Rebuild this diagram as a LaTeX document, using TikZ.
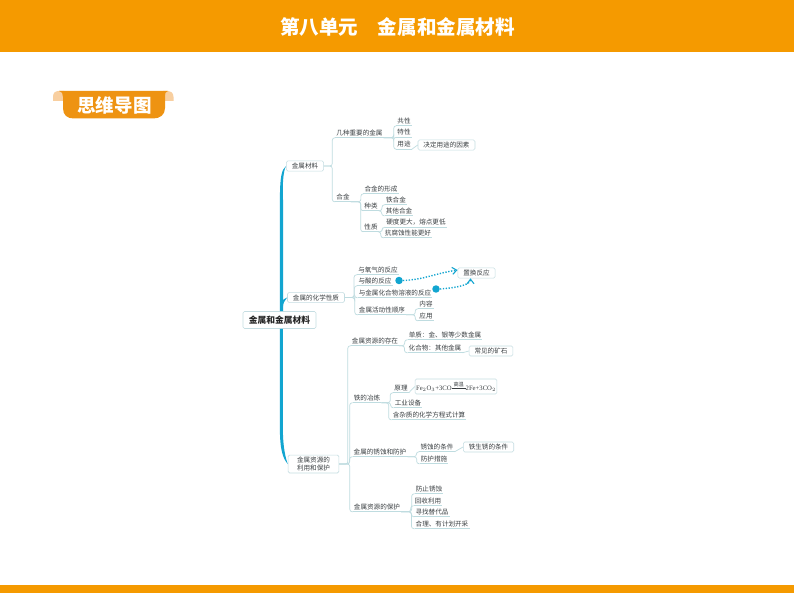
\documentclass[tikz,border=0pt]{standalone}
\usepackage{fontspec}
\usepackage{amsmath}
\setmainfont{Noto Sans CJK SC}
\setmonofont{Liberation Serif}
\usetikzlibrary{arrows.meta,calc}
\definecolor{bandor}{HTML}{F59A00}
\definecolor{tagor}{HTML}{EE9312}
\definecolor{earor}{HTML}{F8CFA0}
\definecolor{trunkb}{HTML}{12A5D0}
\definecolor{linec}{HTML}{BFDCE0}
\definecolor{txtc}{HTML}{3A3F42}
\definecolor{boxc}{HTML}{C5DDE2}
\tikzset{
  leaf/.style={inner xsep=1pt,inner ysep=1.2pt,text=txtc,font=\fontsize{6.6}{7.5}\selectfont,text height=5.8pt,text depth=1pt},
  boxed/.style={draw=boxc,line width=.6pt,rounded corners=1.5pt,fill=white,inner xsep=5.5pt,inner ysep=2pt,text=txtc,font=\fontsize{6.6}{7.8}\selectfont,align=center},
  conn/.style={draw=linec,line width=.7pt,rounded corners=2.5pt},
  uline/.style={draw=linec,line width=.7pt},
  dotarrow/.style={draw=trunkb,line width=1.4pt,dash pattern=on 1.3pt off 1.6pt,-{Straight Barb[length=4.5pt,width=7pt,line width=1.1pt]}},
  bdot/.style={circle,fill=trunkb,minimum size=7.5pt,inner sep=0pt},
  band/.style={fill=bandor,draw=none}
}
% \lf{name}{cx}{cy}{text}: a leaf with its underline
\newcommand{\lf}[4]{\node[leaf] (#1) at (#2,#3) {#4};\draw[uline] (#1.south west) -- (#1.south east);}
% \lk{from}{to}{gap}: elbow connector from a parent anchor to a child's underline
\newcommand{\lk}[3]{\draw[conn] (#1) -| ([xshift=-#3]#2.south west) -- (#2.south west);}
\begin{document}
\begin{tikzpicture}[x=1bp,y=-1bp]
\useasboundingbox (0,0) rectangle (794,593);
\fill[white] (0,0) rectangle (794,593);
\fill[band] (0,0) rectangle (794,52);
\fill[band] (0,585) rectangle (794,593);
\node[text=white,font=\fontsize{19.6}{22}\selectfont\bfseries,inner sep=0pt] (title) at (397.5,27) {第八单元\hspace{1em}金属和金属材料};
% banner
\fill[earor] (53,101) -- (53,97) .. controls (53,93) and (55,91) .. (59,91) -- (64,91) -- (64,101) -- cycle;
\fill[earor] (173.5,101) -- (173.5,97) .. controls (173.5,93) and (171,91) .. (167,91) -- (163,91) -- (163,101) -- cycle;
\fill[tagor] (59,91) -- (168,91) .. controls (165,91) and (165,94) .. (165,97) -- (165,108) .. controls (165,115) and (160,118.5) .. (153,118.5) -- (74,118.5) .. controls (67,118.5) and (63,115) .. (63,108) -- (63,97) .. controls (63,94) and (62,91) .. (59,91) -- cycle;
\node[text=white,font=\fontsize{18.6}{20}\selectfont\bfseries,inner sep=0pt] (tag) at (114.5,105.5) {思维导图};

% main nodes
\node[boxed,minimum width=73bp,minimum height=17bp,font=\fontsize{8.8}{10}\selectfont\bfseries,inner xsep=0pt,inner ysep=0pt,text=black!85] (root) at (279.5,320) {金属和金属材料};
\node[boxed] (a) at (305,166) {金属材料};
\node[boxed] (b) at (316,297.5) {金属的化学性质};
\node[boxed,inner xsep=9pt] (c) at (313.5,464) {金属资源的\\利用和保护};

% trunk
\fill[trunkb] ([xshift=.4]root.north) -- ([xshift=.4,yshift=110]root.north) .. controls ([xshift=.4,yshift=135]root.north) and ([xshift=2,yshift=142]root.north) .. (a.west) .. controls ([xshift=-3,yshift=-5]a.west) and ([xshift=-3.9,yshift=-20]a.west) .. ([xshift=3.6,yshift=110]root.north) -- ([xshift=3.6]root.north) -- cycle;
\fill[trunkb] ([xshift=1,yshift=4]root.north) .. controls ([xshift=1,yshift=9]root.north) and ([xshift=3,yshift=12]root.north) .. (b.west) .. controls ([xshift=5,yshift=10]root.north) and ([xshift=3.4,yshift=8]root.north) .. ([xshift=3.4,yshift=4]root.north) -- cycle;
\fill[trunkb] ([xshift=.4]root.south) -- ([xshift=.4,yshift=-100]root.south) .. controls ([xshift=.4,yshift=-120]root.south) and ([xshift=3,yshift=-130]root.south) .. (c.west) .. controls ([xshift=-1.5,yshift=4]c.west) and ([xshift=-5,yshift=15]c.west) .. ([xshift=3.4,yshift=-100]root.south) -- ([xshift=3.4]root.south) -- cycle;

% branch a
\lf{a1}{359.5}{133}{几种重要的金属}
\lf{a2}{343}{197}{合金}
\lk{a.east}{a1}{3}
\lk{a.east}{a2}{3}
\lf{a11}{404}{121}{共性}
\lf{a12}{404}{132.5}{特性}
\lf{a13}{404}{144.5}{用途}
\lk{a1.south east}{a11}{2.5}
\lk{a1.south east}{a12}{2.5}
\lk{a1.south east}{a13}{2.5}
\node[boxed] (a131) at (446.5,145) {决定用途的因素};
\draw[uline] (a13.south east) -- (a131.west);
\lf{a21}{381}{189}{合金的形成}
\lf{a22}{371}{206}{种类}
\lf{a23}{371}{227}{性质}
\lk{a2.south east}{a21}{2.5}
\lk{a2.south east}{a22}{2.5}
\lk{a2.south east}{a23}{2.5}
\lf{a221}{396}{200}{铁合金}
\lf{a222}{399}{211}{其他合金}
\lk{a22.south east}{a221}{3}
\lk{a22.south east}{a222}{3}
\lf{a231}{416}{222.5}{硬度更大，熔点更低}
\lf{a232}{408}{233}{抗腐蚀性能更好}
\lk{a23.south east}{a231}{3}
\lk{a23.south east}{a232}{3}

% branch b
\lf{b1}{378}{270}{与氧气的反应}
\lf{b2}{375}{281}{与酸的反应}
\lf{b3}{395}{293}{与金属化合物溶液的反应}
\lf{b4}{382}{310}{金属活动性顺序}
\lk{b.east}{b1}{3}
\lk{b.east}{b2}{3}
\lk{b.east}{b3}{3}
\lk{b.east}{b4}{3}
\lf{b41}{426}{304}{内容}
\lf{b42}{426}{316}{应用}
\lk{b4.south east}{b41}{3}
\lk{b4.south east}{b42}{3}
\node[boxed] (bx) at (476.5,273) {置换反应};
\node[bdot] (d1) at (399,280.5) {};
\node[bdot] (d2) at (436,289) {};
\draw[dotarrow] (d1.east) .. controls ([xshift=22,yshift=1]d1.east) and ([xshift=-25,yshift=-1]bx.west) .. ([yshift=3]bx.west);
\draw[dotarrow] (d2.east) .. controls ([xshift=14,yshift=1]d2.east) and ([xshift=-6,yshift=-7]bx.south) .. ([xshift=-6]bx.south);

% branch c
\lf{c1}{375}{341}{金属资源的存在}
\lf{c2}{367}{398}{铁的冶炼}
\lf{c3}{380}{452}{金属的锈蚀和防护}
\lf{c4}{377}{507}{金属资源的保护}
\lk{c.east}{c1}{3}
\lk{c.east}{c2}{3}
\lk{c.east}{c3}{3}
\lk{c.east}{c4}{3}
\lf{c11}{445}{335}{单质：金、银等少数金属}
\lf{c12}{435}{348}{化合物：其他金属}
\lk{c1.south east}{c11}{3}
\lk{c1.south east}{c12}{3}
\node[boxed] (c121) at (491,351) {常见的矿石};
\draw[uline] (c12.south east) -- (c121.west);
\lf{c21}{401}{388}{原理}
\lf{c22}{408}{403}{工业设备}
\lf{c23}{429}{415}{含杂质的化学方程式计算}
\lk{c2.south east}{c21}{3}
\lk{c2.south east}{c22}{3}
\lk{c2.south east}{c23}{3}
\node[boxed,inner xsep=1pt,inner ysep=1pt,font=\fontsize{6.7}{7.5}\selectfont,minimum width=78bp,minimum height=15bp] (c211) at (456,386.5) {\ttfamily Fe$_2$O$_3$+3CO$\mathrel{\mathop{\rule[2pt]{14pt}{.6pt}}\limits^{\mbox{\rmfamily\fontsize{5.2}{5}\selectfont 高温}}}$2Fe+3CO$_2$};
\draw[uline] (c21.south east) -- (c211.west);
\lf{c31}{437}{447}{锈蚀的条件}
\lf{c32}{434}{459}{防护措施}
\lk{c3.south east}{c31}{3}
\lk{c3.south east}{c32}{3}
\node[boxed] (c311) at (488.5,447) {铁生锈的条件};
\draw[uline] (c31.south east) -- (c311.west);
\lf{c41}{429}{489}{防止锈蚀}
\lf{c42}{428}{501}{回收利用}
\lf{c43}{432}{512}{寻找替代品}
\lf{c44}{442}{524}{合理、有计划开采}
\lk{c4.south east}{c41}{3}
\lk{c4.south east}{c42}{3}
\lk{c4.south east}{c43}{3}
\lk{c4.south east}{c44}{3}
\end{tikzpicture}
\end{document}
